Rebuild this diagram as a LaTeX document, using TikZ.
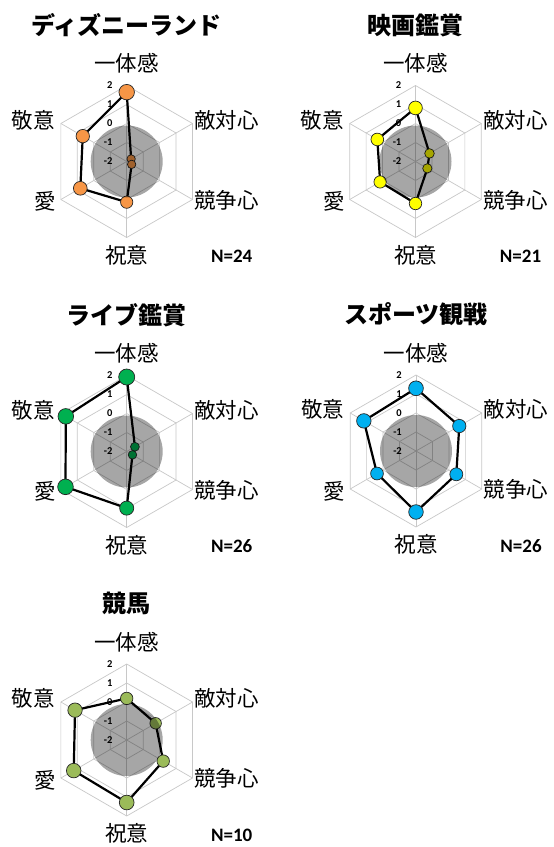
\documentclass[tikz,border=0pt]{standalone}
\usepackage{fontspec}
\setmainfont{Carlito}
\newfontfamily\jp{Noto Sans CJK JP}
\definecolor{cOrange}{RGB}{247,150,70}
\definecolor{cYellow}{RGB}{255,255,0}
\definecolor{cGreen}{RGB}{0,176,80}
\definecolor{cBlue}{RGB}{0,176,240}
\definecolor{cOlive}{RGB}{155,187,89}
\definecolor{gridgray}{RGB}{200,200,200}
\tikzset{
  gridline/.style={draw=gridgray, line width=0.7pt},
  dataline/.style={draw=black, line width=2.2pt, line join=round},
  marker/.style={circle, draw=black!85, line width=0.7pt, inner sep=0pt},
  axlab/.style={font=\jp\fontsize{21.5}{22}\selectfont, inner sep=0pt},
  ttl/.style={font=\jp\bfseries\fontsize{24}{25}\selectfont, inner sep=0pt},
  nlab/.style={font=\bfseries\fontsize{19}{20}\selectfont, inner sep=0pt},
  ticklab/.style={font=\bfseries\fontsize{10.5}{11}\selectfont, inner sep=0pt, anchor=east},
  shadedisk/.style={fill=black, opacity=0.35},
}
% #1 prefix, #2 center, #3 title, #4 N text, #5 colour, #6 values
\newcommand\radarchart[6]{%
\begin{scope}[shift={(#2)}]
  \foreach \lv in {1,2,3,4}
    \draw[gridline] (-90:\lv*19) -- (-30:\lv*19) -- (30:\lv*19) -- (90:\lv*19) -- (150:\lv*19) -- (210:\lv*19) -- cycle;
  \foreach \k in {0,...,5}
    \draw[gridline] (0,0) -- (-90+60*\k:76);
  \foreach \v [count=\i] in {#6}
    \coordinate (#1p\i) at (-150+60*\i:{(\v+2)*19});
  \draw[dataline] (#1p1) -- (#1p2) -- (#1p3) -- (#1p4) -- (#1p5) -- (#1p6) -- cycle;
  \foreach \v [count=\i] in {#6} {
    \pgfmathsetmacro\ms{2*(3.9+(\v+2)*1.05)}
    \node[marker, fill=#5, minimum size=\ms pt] (#1m\i) at (#1p\i) {};
  }
  \fill[shadedisk] (0,0) circle[radius=36];
  \foreach \t in {2,1,0,-1,-2}
    \node[ticklab] (#1t\t) at (-14,{-(\t+2)*19}) {\t};
  \node[ttl]  (#1title) at (0,-136.5) {#3};
  \node[axlab] (#1a1) at (0,-98) {一体感};
  \node[axlab] (#1a2) at (100,-41.5) {敵対心};
  \node[axlab] (#1a3) at (100,38.5) {競争心};
  \node[axlab] (#1a4) at (0,93.5) {祝意};
  \node[axlab] (#1a5) at (-81.7,40) {愛};
  \node[axlab] (#1a6) at (-93.4,-41.5) {敬意};
  \node[nlab] (#1n) at (105,95) {#4};
\end{scope}}
\begin{document}
\begin{tikzpicture}[x=1pt,y=-1pt]
\fill[white] (0,0) rectangle (554,847);
\useasboundingbox (0,0) rectangle (554,847);
\radarchart{A}{126.7,161.5}{ディズニーランド}{N=24}{cOrange}{1.65,-1.73,-1.7,0.14,0.82,0.67}
\radarchart{B}{415.5,161.5}{映画鑑賞}{N=21}{cYellow}{0.82,-1.15,-1.28,0.21,0.15,0.32}
\radarchart{C}{126.7,451.5}{ライブ鑑賞}{N=26}{cGreen}{1.92,-1.5,-1.65,0.98,1.72,1.7}
\radarchart{D}{416,451}{スポーツ観戦}{N=26}{cBlue}{1.3,0.63,0.45,1.21,0.37,1.17}
\radarchart{E}{126.7,740}{競馬}{N=10}{cOlive}{0.19,-0.24,0.22,1.29,1.22,1.14}
\end{tikzpicture}
\end{document}
